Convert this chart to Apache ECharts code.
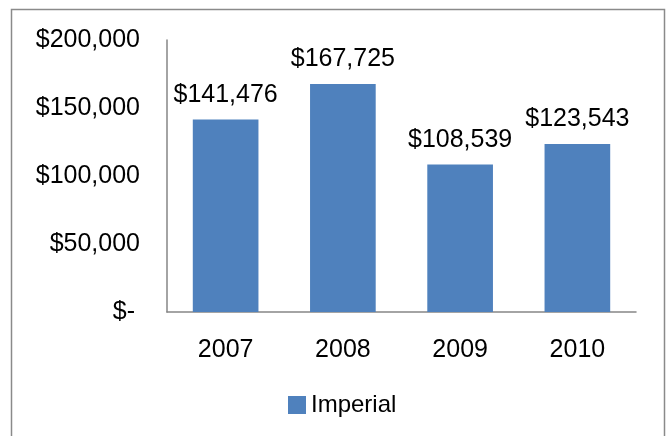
<!DOCTYPE html>
<html>
<head>
<meta charset="utf-8">
<script src="https://cdn.jsdelivr.net/npm/echarts@6/dist/echarts.min.js"></script>
<style>
html,body{margin:0;padding:0;background:#fff;}
#chart{width:668px;height:436px;}
</style>
</head>
<body>
<div id="chart"></div>
<script>
var categories = ['2007', '2008', '2009', '2010'];
var seriesName = 'Imperial';
var values = [141476, 167725, 108539, 123543];
var yTicks = [0, 50000, 100000, 150000, 200000];

function money(v) {
  if (v === 0) return '$-';
  return '$' + v.toLocaleString('en-US');
}

var chart = echarts.init(document.getElementById('chart'), null, {renderer: 'canvas'});
var font = 'Liberation Sans';
chart.setOption({
  animation: false,
  backgroundColor: '#fff',
  textStyle: {fontFamily: font},
  graphic: [{
    type: 'rect',
    shape: {x: 11.5, y: 9.5, width: 653, height: 440},
    style: {fill: 'none', stroke: '#8a8a8a', lineWidth: 1.5},
    silent: true
  }],
  grid: {left: 167, right: 32, top: 40, bottom: 124},
  legend: {
    data: [seriesName],
    left: 288, top: 393, padding: 0,
    itemWidth: 18, itemHeight: 18, itemGap: 5,
    icon: 'rect',
    textStyle: {fontSize: 24, color: '#000', fontFamily: font, padding: [2, 0, 0, 0]}
  },
  xAxis: {
    type: 'category',
    data: categories,
    axisLine: {lineStyle: {color: '#868686', width: 1.5}},
    axisTick: {show: false},
    axisLabel: {fontSize: 25, color: '#000', margin: 26, fontFamily: font}
  },
  yAxis: {
    type: 'value',
    min: yTicks[0], max: yTicks[yTicks.length - 1], interval: yTicks[1] - yTicks[0],
    splitLine: {show: false},
    axisLine: {show: true, lineStyle: {color: '#868686', width: 1.5}},
    axisTick: {show: false},
    axisLabel: {fontSize: 25, color: '#000', margin: 27, fontFamily: font,
      formatter: function (v) { return v === 0 ? '$-\u2009' : money(v); }}
  },
  series: [{
    name: seriesName,
    type: 'bar',
    data: values,
    barWidth: '56%',
    itemStyle: {color: '#4F81BD'},
    label: {show: true, position: 'top', distance: 12, fontSize: 25, color: '#000', fontFamily: font,
      formatter: function (p) { return money(p.value); }}
  }]
});
</script>
</body>
</html>
